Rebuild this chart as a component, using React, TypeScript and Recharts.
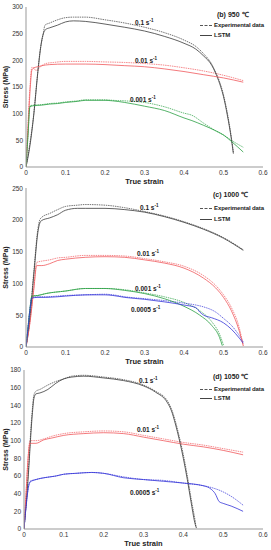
import { LineChart, Line, XAxis, YAxis } from "recharts"

type Pt = [number, number]

// strain ticks shared by all three panels
const strainTicks = [0, 0.1, 0.2, 0.3, 0.4, 0.5, 0.6]
const ticks950 = [0, 50, 100, 150, 200, 250, 300]
const ticks1000 = [0, 50, 100, 150, 200, 250]
const ticks1050 = [0, 20, 40, 60, 80, 100, 120, 140, 160, 180]

// (b) 950 C
const exp950_r01: Pt[] = [[0, 0], [0.01, 45], [0.019, 95], [0.027, 157], [0.035, 214], [0.044, 251], [0.048, 266], [0.06, 270], [0.08, 276], [0.1, 280], [0.12, 281], [0.15, 281], [0.2, 276], [0.25, 270], [0.3, 262], [0.35, 252], [0.4, 238], [0.43, 226], [0.45, 212], [0.47, 193], [0.48, 178], [0.49, 160], [0.5, 135], [0.51, 100], [0.52, 55], [0.525, 28]]
const lstm950_r01: Pt[] = [[0, 0], [0.01, 40], [0.02, 100], [0.03, 178], [0.04, 238], [0.05, 258], [0.06, 261], [0.08, 266], [0.1, 272], [0.12, 274], [0.15, 273], [0.2, 268], [0.25, 262], [0.3, 255], [0.35, 245], [0.4, 232], [0.43, 221], [0.45, 208], [0.47, 191], [0.48, 176], [0.49, 157], [0.5, 132], [0.51, 96], [0.52, 52], [0.525, 25]]
const exp950_r001: Pt[] = [[0, 0], [0.005, 80], [0.01, 150], [0.015, 187], [0.02, 185], [0.025, 181], [0.03, 183], [0.04, 190], [0.05, 194], [0.07, 196], [0.1, 198], [0.15, 198], [0.2, 197], [0.25, 196], [0.3, 194], [0.35, 191], [0.4, 186], [0.45, 180], [0.5, 172], [0.55, 162]]
const lstm950_r001: Pt[] = [[0, 0], [0.005, 70], [0.01, 140], [0.015, 182], [0.02, 186], [0.03, 188], [0.04, 190], [0.06, 192], [0.1, 193], [0.15, 193], [0.2, 192], [0.25, 190], [0.3, 188], [0.35, 184], [0.4, 179], [0.45, 173], [0.5, 167], [0.55, 159]]
const exp950_r0001: Pt[] = [[0, 0], [0.005, 60], [0.01, 115], [0.02, 116], [0.04, 117], [0.06, 119], [0.08, 120], [0.1, 122], [0.13, 124], [0.15, 126], [0.2, 126], [0.22, 125], [0.25, 124], [0.3, 121], [0.35, 113], [0.4, 101], [0.42, 97], [0.45, 82], [0.48, 68], [0.5, 60], [0.52, 50], [0.55, 37]]
const lstm950_r0001: Pt[] = [[0, 0], [0.005, 58], [0.01, 113], [0.02, 115], [0.04, 116], [0.06, 118], [0.08, 119], [0.1, 121], [0.13, 123], [0.15, 125], [0.2, 125], [0.22, 124], [0.25, 121], [0.3, 114], [0.35, 106], [0.4, 92], [0.42, 87], [0.45, 78], [0.48, 68], [0.5, 60], [0.52, 48], [0.55, 28]]

// (c) 1000 C
const exp1000_r01: Pt[] = [[0, 0], [0.01, 50], [0.02, 120], [0.03, 185], [0.035, 200], [0.04, 204], [0.06, 210], [0.08, 216], [0.1, 221], [0.13, 223], [0.15, 224], [0.2, 223], [0.25, 219], [0.3, 213], [0.35, 206], [0.4, 197], [0.45, 186], [0.5, 172], [0.55, 153]]
const lstm1000_r01: Pt[] = [[0, 0], [0.01, 45], [0.02, 115], [0.03, 180], [0.035, 195], [0.04, 199], [0.06, 203], [0.08, 208], [0.1, 215], [0.13, 218], [0.15, 218], [0.2, 218], [0.25, 216], [0.3, 212], [0.35, 205], [0.4, 196], [0.45, 185], [0.5, 171], [0.55, 152]]
const exp1000_r001: Pt[] = [[0, 0], [0.01, 40], [0.02, 95], [0.027, 133], [0.04, 135], [0.06, 137], [0.08, 140], [0.1, 141], [0.15, 144], [0.2, 144], [0.25, 143], [0.3, 139], [0.35, 134], [0.4, 127], [0.45, 112], [0.48, 97], [0.5, 82], [0.52, 62], [0.54, 30], [0.55, 2]]
const lstm1000_r001: Pt[] = [[0, 0], [0.01, 38], [0.02, 92], [0.027, 128], [0.04, 128], [0.06, 131], [0.08, 136], [0.1, 138], [0.15, 141], [0.2, 142], [0.25, 141], [0.3, 137], [0.35, 132], [0.4, 124], [0.45, 108], [0.48, 93], [0.5, 78], [0.52, 57], [0.54, 25], [0.55, 2]]
const exp1000_r0001: Pt[] = [[0, 0], [0.005, 30], [0.01, 60], [0.015, 80], [0.03, 81], [0.05, 84], [0.1, 88], [0.15, 92], [0.2, 92], [0.25, 90], [0.3, 85], [0.35, 79], [0.4, 70], [0.44, 57], [0.47, 40], [0.49, 20], [0.5, 3]]
const lstm1000_r0001: Pt[] = [[0, 0], [0.005, 30], [0.01, 60], [0.015, 80], [0.03, 81], [0.05, 84], [0.1, 88], [0.15, 92], [0.2, 92], [0.25, 89], [0.3, 84], [0.35, 76], [0.4, 64], [0.44, 50], [0.47, 34], [0.49, 15], [0.497, 2]]
const exp1000_r00005: Pt[] = [[0, 0], [0.005, 30], [0.01, 60], [0.015, 78], [0.03, 79], [0.05, 79], [0.1, 81], [0.15, 82], [0.2, 83], [0.22, 82], [0.25, 79], [0.3, 76], [0.35, 73], [0.4, 69], [0.43, 66], [0.45, 63], [0.48, 55], [0.5, 45], [0.52, 34], [0.54, 18], [0.55, 8]]
const lstm1000_r00005: Pt[] = [[0, 0], [0.005, 28], [0.01, 58], [0.015, 77], [0.03, 78], [0.05, 78], [0.1, 80], [0.15, 82], [0.2, 82], [0.22, 81], [0.25, 78], [0.3, 75], [0.35, 71], [0.4, 66], [0.43, 62], [0.44, 55], [0.45, 50], [0.47, 46], [0.5, 38], [0.52, 28], [0.54, 14], [0.55, 6]]

// (d) 1050 C
const exp1050_r01: Pt[] = [[0, 0], [0.01, 60], [0.02, 130], [0.025, 152], [0.03, 156], [0.04, 158], [0.06, 163], [0.08, 167], [0.1, 170], [0.12, 173], [0.15, 174], [0.2, 172], [0.25, 169], [0.3, 163], [0.33, 156], [0.36, 145], [0.37, 136], [0.38, 122], [0.39, 104], [0.4, 84], [0.41, 60], [0.42, 33], [0.43, 8], [0.432, 2]]
const lstm1050_r01: Pt[] = [[0, 0], [0.01, 55], [0.02, 125], [0.025, 148], [0.03, 153], [0.04, 154], [0.06, 158], [0.08, 165], [0.1, 170], [0.12, 172], [0.15, 173], [0.2, 171], [0.25, 168], [0.3, 162], [0.33, 155], [0.36, 143], [0.37, 134], [0.38, 119], [0.39, 101], [0.4, 80], [0.41, 56], [0.42, 29], [0.43, 5], [0.433, 1]]
const exp1050_r001: Pt[] = [[0, 0], [0.005, 40], [0.01, 80], [0.015, 100], [0.03, 100], [0.05, 102], [0.07, 105], [0.1, 108], [0.15, 110], [0.2, 111], [0.25, 110], [0.3, 106], [0.35, 102], [0.4, 98], [0.45, 95], [0.5, 91], [0.55, 87]]
const lstm1050_r001: Pt[] = [[0, 0], [0.005, 38], [0.01, 78], [0.015, 97], [0.03, 97], [0.05, 101], [0.07, 103], [0.1, 106], [0.15, 108], [0.2, 109], [0.25, 108], [0.3, 104], [0.35, 100], [0.4, 96], [0.45, 93], [0.5, 89], [0.55, 84]]
const exp1050_r00005: Pt[] = [[0, 0], [0.005, 25], [0.01, 45], [0.015, 54], [0.03, 56], [0.05, 58], [0.08, 60], [0.1, 62], [0.13, 63], [0.17, 64], [0.2, 63], [0.25, 59], [0.3, 56], [0.35, 55], [0.4, 52], [0.45, 49], [0.47, 47], [0.5, 42], [0.52, 37], [0.55, 27]]
const lstm1050_r00005: Pt[] = [[0, 0], [0.005, 24], [0.01, 44], [0.015, 53], [0.03, 56], [0.05, 58], [0.08, 60], [0.1, 62], [0.13, 63], [0.17, 64], [0.2, 63], [0.25, 58], [0.3, 56], [0.35, 54], [0.4, 52], [0.45, 49], [0.47, 45], [0.48, 40], [0.49, 31], [0.5, 29], [0.52, 26], [0.55, 20]]

const BLACK = "#3a3a3a"
const RED = "#f0585c"
const GREEN = "#2aa043"
const BLUE = "#3333d8"
const FONT = "'Liberation Sans', Arial, sans-serif"

interface Series {
  exp: Pt[]
  lstm: Pt[]
  color: string
}

interface CurveLabel {
  rate: string
  x: number
  y: number
}

interface PanelProps {
  height: number
  top: number
  yAxisWidth: number
  yMax: number
  yTicks: number[]
  series: Series[]
  title: string
  legendY: [number, number, number]
  titleX: number
  labels: CurveLabel[]
}

const toData = (pts: Pt[]) => pts.map(([x, y]) => ({ x, y }))

function Panel({ height, top, yAxisWidth, yMax, yTicks, series, title, legendY, titleX, labels }: PanelProps) {
  const txt = { position: "absolute" as const, fontSize: 6.5, fontWeight: 700, lineHeight: "8px", color: "#222", whiteSpace: "nowrap" as const }
  return (
    <div style={{ position: "relative", width: 271, height }}>
      <LineChart width={271} height={height} margin={{ top, right: 8, left: 0, bottom: 0 }}>
        <XAxis
          type="number"
          dataKey="x"
          domain={[0, 0.6]}
          ticks={strainTicks}
          allowDataOverflow
          height={18}
          tickSize={1}
          tickLine={false}
          axisLine={{ stroke: "#999" }}
          tick={{ fontSize: 6.5, fill: "#333", fontFamily: FONT }}
          label={{ value: "True strain", position: "insideBottom", offset: 1, style: { fontSize: 7.5, fontWeight: 700, fill: "#222", fontFamily: FONT } }}
        />
        <YAxis
          type="number"
          dataKey="y"
          domain={[0, yMax]}
          ticks={yTicks}
          allowDataOverflow
          width={yAxisWidth}
          tickSize={1}
          tickLine={false}
          axisLine={{ stroke: "#999" }}
          tick={{ fontSize: 6.5, fill: "#333", fontFamily: FONT }}
          label={{ value: "Stress (MPa)", angle: -90, position: "insideLeft", offset: 6, style: { textAnchor: "middle", fontSize: 7, fontWeight: 700, fill: "#222", fontFamily: FONT } }}
        />
        {series.map((s, i) => (
          <Line key={"e" + i} data={toData(s.exp)} dataKey="y" type="monotone" stroke={s.color} strokeWidth={0.7} strokeDasharray="1.5 0.8" dot={false} isAnimationActive={false} />
        ))}
        {series.map((s, i) => (
          <Line key={"l" + i} data={toData(s.lstm)} dataKey="y" type="monotone" stroke={s.color} strokeWidth={0.8} dot={false} isAnimationActive={false} />
        ))}
      </LineChart>
      <div style={{ ...txt, left: titleX, top: legendY[0] - 4, fontSize: 7 }}>{title}</div>
      <div style={{ position: "absolute", left: 200, top: legendY[1], width: 12, borderTop: "1px dashed #555" }} />
      <div style={{ ...txt, left: 214, top: legendY[1] - 4, fontSize: 6, letterSpacing: -0.1 }}>Experimental data</div>
      <div style={{ position: "absolute", left: 200, top: legendY[2], width: 12, borderTop: "1px solid #444" }} />
      <div style={{ ...txt, left: 214, top: legendY[2] - 4, fontSize: 6 }}>LSTM</div>
      {labels.map(l => (
        <div key={l.rate} style={{ ...txt, left: l.x, top: l.y - 4 }}>
          {l.rate} s<span style={{ fontSize: 4.5, verticalAlign: "3px" }}>-1</span>
        </div>
      ))}
    </div>
  )
}

export default function App() {
  return (
    <div style={{ position: "absolute", left: 0, top: 0, width: 271, height: 550, background: "#fff", fontFamily: FONT }}>
      <Panel
        height={185}
        top={7}
        yAxisWidth={26}
        yMax={300}
        yTicks={ticks950}
        title="(b) 950 ℃"
        titleX={217}
        legendY={[15, 25, 35]}
        series={[
          { exp: exp950_r01, lstm: lstm950_r01, color: BLACK },
          { exp: exp950_r001, lstm: lstm950_r001, color: RED },
          { exp: exp950_r0001, lstm: lstm950_r0001, color: GREEN },
        ]}
        labels={[
          { rate: "0.1", x: 135, y: 21 },
          { rate: "0.01", x: 135, y: 59 },
          { rate: "0.001", x: 130, y: 98 },
        ]}
      />
      <Panel
        height={180}
        top={3}
        yAxisWidth={26}
        yMax={250}
        yTicks={ticks1000}
        title="(c) 1000 ℃"
        titleX={213}
        legendY={[10, 23, 34]}
        series={[
          { exp: exp1000_r01, lstm: lstm1000_r01, color: BLACK },
          { exp: exp1000_r001, lstm: lstm1000_r001, color: RED },
          { exp: exp1000_r0001, lstm: lstm1000_r0001, color: GREEN },
          { exp: exp1000_r00005, lstm: lstm1000_r00005, color: BLUE },
        ]}
        labels={[
          { rate: "0.1", x: 140, y: 21 },
          { rate: "0.01", x: 137, y: 67 },
          { rate: "0.001", x: 135, y: 102 },
          { rate: "0.0005", x: 131, y: 123 },
        ]}
      />
      <Panel
        height={182}
        top={5}
        yAxisWidth={24}
        yMax={180}
        yTicks={ticks1050}
        title="(d) 1050 ℃"
        titleX={213}
        legendY={[12, 24, 33]}
        series={[
          { exp: exp1050_r01, lstm: lstm1050_r01, color: BLACK },
          { exp: exp1050_r001, lstm: lstm1050_r001, color: RED },
          { exp: exp1050_r00005, lstm: lstm1050_r00005, color: BLUE },
        ]}
        labels={[
          { rate: "0.1", x: 139, y: 14 },
          { rate: "0.01", x: 137, y: 63 },
          { rate: "0.0005", x: 130, y: 126 },
        ]}
      />
    </div>
  )
}
